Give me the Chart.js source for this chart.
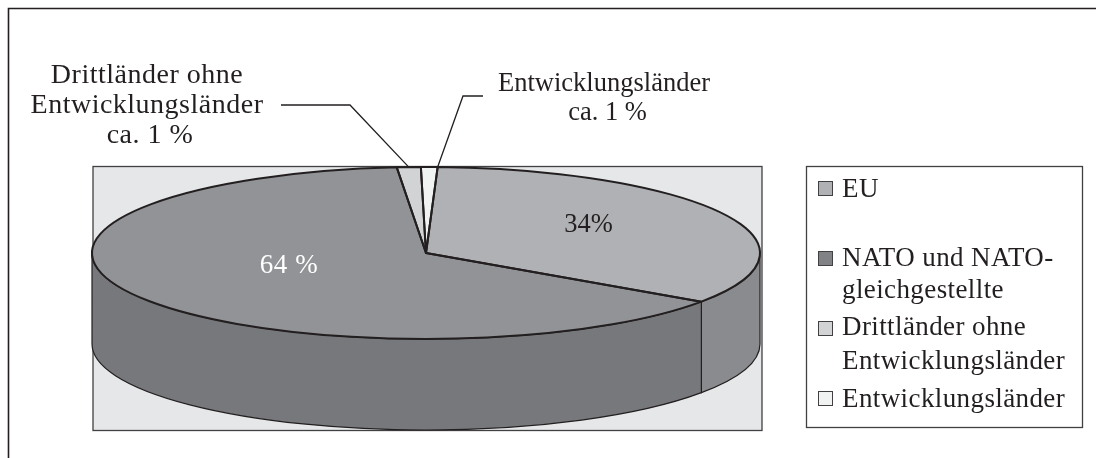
<!DOCTYPE html>
<html>
<head>
<meta charset="utf-8">
<style>
    html, body { margin: 0; padding: 0; background: #ffffff; }
    canvas { display: block; }
</style>
<script src="https://cdn.jsdelivr.net/npm/chart.js@4"></script>
</head>
<body>
<canvas id="pie-chart" width="1096" height="458"></canvas>
<script>
const categories = ['EU', 'NATO und NATO-gleichgestellte', 'Drittländer ohne Entwicklungsländer', 'Entwicklungsländer'];
const shares = [34, 64, 1.15, 0.8];
const topColors = ['#b0b1b4', '#929396', '#d1d3d4', '#f1f2f2'];
const sideColors = ['#8a8b8e', '#77787b', '#a7a9ac', '#c7c8ca'];
const legendColors = ['#b0b1b4', '#808285', '#d1d3d4', '#f1f2f2'];
const legendLines = [['EU'], ['NATO und NATO-', 'gleichgestellte'], ['Drittländer ohne', 'Entwicklungsländer'], ['Entwicklungsländer']];

const ink = '#231f20';
const serif = '"Liberation Serif", serif';
const pie = { x: 426, y: 253, rx: 334, ry: 86, depth: 91 };

function drawText(ctx, text, x, y, align, size, spacing, color) {
    ctx.font = size + 'px ' + serif;
    ctx.letterSpacing = spacing + 'px';
    ctx.textAlign = align;
    ctx.textBaseline = 'alphabetic';
    ctx.fillStyle = color || ink;
    ctx.fillText(text, x, y);
}

function strokePath(ctx, points, width) {
    ctx.beginPath();
    points.forEach((p, i) => i ? ctx.lineTo(p[0], p[1]) : ctx.moveTo(p[0], p[1]));
    ctx.lineWidth = width;
    ctx.strokeStyle = ink;
    ctx.stroke();
}

function rimPoint(angle) {
    return [pie.x + pie.rx * Math.cos(angle), pie.y + pie.ry * Math.sin(angle)];
}

// chart.js only knows round pies, so the arcs get squashed and the wall is added here
const tiltedPie = {
    id: 'tiltedPie',
    beforeDraw(chart) {
        const ctx = chart.ctx;
        ctx.save();
        ctx.fillStyle = '#ffffff';
        ctx.fillRect(0, 0, chart.width, chart.height);
        strokePath(ctx, [[8.5, 458], [8.5, 8.5], [1096, 8.5]], 1.6);
        ctx.fillStyle = '#e6e7e8';
        ctx.fillRect(93, 166, 669, 264);
        ctx.strokeStyle = '#414042';
        ctx.lineWidth = 1.3;
        ctx.strokeRect(93, 166.5, 669, 264);
        ctx.restore();
    },
    beforeDatasetDraw(chart, args) {
        const ctx = chart.ctx;
        ctx.save();
        args.meta.data.forEach((arc, i) => {
            const a = Math.max(arc.startAngle, 0);
            const b = Math.min(arc.endAngle, Math.PI);
            if (b <= a) return;
            ctx.beginPath();
            ctx.ellipse(pie.x, pie.y, pie.rx, pie.ry, 0, a, b);
            ctx.ellipse(pie.x, pie.y + pie.depth, pie.rx, pie.ry, 0, b, a, true);
            ctx.closePath();
            ctx.fillStyle = sideColors[i];
            ctx.fill();
            ctx.lineWidth = 1.2;
            ctx.strokeStyle = ink;
            ctx.stroke();
        });
        const first = args.meta.data[0];
        ctx.translate(pie.x, pie.y);
        ctx.scale(pie.rx / first.outerRadius, pie.ry / first.outerRadius);
        ctx.translate(-first.x, -first.y);
    },
    afterDatasetDraw(chart, args) {
        const ctx = chart.ctx;
        ctx.restore();
        ctx.save();
        ctx.lineWidth = 2;
        ctx.strokeStyle = ink;
        ctx.lineJoin = 'round';
        args.meta.data.forEach(arc => {
            ctx.beginPath();
            ctx.moveTo(pie.x, pie.y);
            ctx.ellipse(pie.x, pie.y, pie.rx, pie.ry, 0, arc.startAngle, arc.endAngle);
            ctx.closePath();
            ctx.stroke();
        });
        ctx.restore();
    },
    afterDraw(chart) {
        const ctx = chart.ctx;
        const arcs = chart.getDatasetMeta(0).data;
        ctx.save();

        // leader lines end on the rim of the two small slices
        const thirdMid = rimPoint((arcs[2].startAngle + arcs[2].endAngle) / 2);
        const fourthEnd = rimPoint(arcs[3].endAngle);
        strokePath(ctx, [[281, 105], [350, 105], thirdMid], 1.3);
        strokePath(ctx, [[483, 96], [463, 96], fourthEnd], 1.3);

        drawText(ctx, 'Drittländer ohne', 147, 83, 'center', 28, 0.5);
        drawText(ctx, 'Entwicklungsländer', 147, 113, 'center', 28, 0.5);
        drawText(ctx, 'ca. 1 %', 150, 143, 'center', 28, 0.5);
        drawText(ctx, 'Entwicklungsländer', 604, 91, 'center', 26.5, 0);
        drawText(ctx, 'ca. 1 %', 607.5, 120, 'center', 26.5, 0);
        drawText(ctx, '34%', 588.5, 232, 'center', 26.5, 0);
        drawText(ctx, '64 %', 289, 273, 'center', 27, 0.6, '#ffffff');

        // legend
        ctx.lineWidth = 1.3;
        ctx.strokeStyle = '#414042';
        ctx.strokeRect(806.5, 166.5, 276, 261);
        const swatchY = [181, 251, 321, 391];
        const textY = [[197], [266, 298], [335, 369], [407]];
        legendLines.forEach((lines, i) => {
            ctx.fillStyle = legendColors[i];
            ctx.fillRect(818.5, swatchY[i] + 0.5, 14, 14);
            ctx.lineWidth = 1;
            ctx.strokeStyle = '#414042';
            ctx.strokeRect(818.5, swatchY[i] + 0.5, 14, 14);
            lines.forEach((line, j) => drawText(ctx, line, 842, textY[i][j], 'left', 27, 0.4));
        });
        ctx.restore();
    }
};

new Chart(document.getElementById('pie-chart'), {
    type: 'pie',
    data: {
        labels: categories,
        datasets: [{
            data: shares,
            backgroundColor: topColors,
            borderWidth: 0,
            clip: false
        }]
    },
    options: {
        responsive: false,
        animation: false,
        rotation: 2,
        plugins: {
            legend: { display: false },
            tooltip: { enabled: false }
        }
    },
    plugins: [tiltedPie]
});
</script>
</body>
</html>
